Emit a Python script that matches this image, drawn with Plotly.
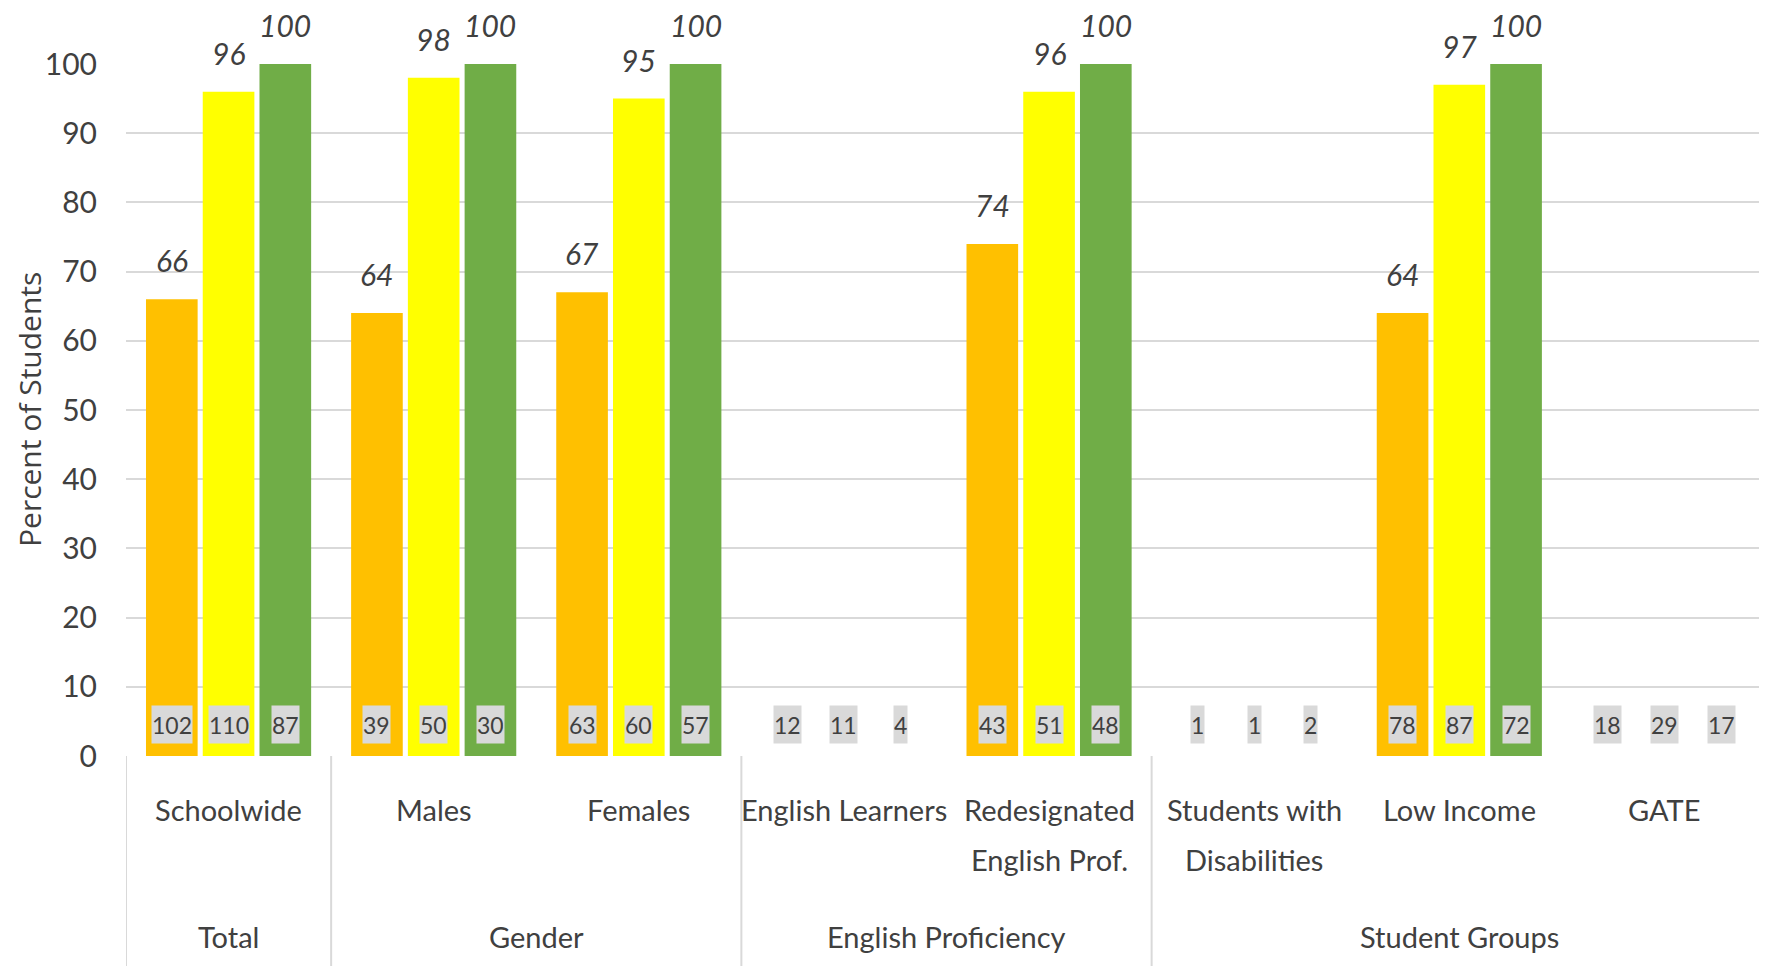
import plotly.graph_objects as go

categories = ["Schoolwide", "Males", "Females", "English Learners",
              "Redesignated<br>English Prof.", "Students with<br>Disabilities",
              "Low Income", "GATE"]
groups = ["Total", "Gender", "English Proficiency", "Student Groups"]
group_spans = [(0, 0), (1, 2), (3, 4), (5, 7)]

series_names = ["Series 1", "Series 2", "Series 3"]
orange_pct = [66, 64, 67, None, 74, None, 64, None]
yellow_pct = [96, 98, 95, None, 96, None, 97, None]
green_pct = [100, 100, 100, None, 100, None, 100, None]
orange_n = [102, 39, 63, 12, 43, 1, 78, 18]
yellow_n = [110, 50, 60, 11, 51, 1, 87, 29]
green_n = [87, 30, 57, 4, 48, 2, 72, 17]

colors = ["#FFC000", "#FFFF00", "#70AD47"]
y_ticks = list(range(0, 101, 10))

FONT = "Lato, 'Liberation Sans', sans-serif"
TXT = "#404040"
GRID = "#d9d9d9"

bargap = 0.17
bargroupgap = 0.09

xs = list(range(len(categories)))
fig = go.Figure()
for name, vals, col in zip(series_names, [orange_pct, yellow_pct, green_pct], colors):
    fig.add_trace(go.Bar(
        x=xs, y=vals, name=name, marker=dict(color=col, line=dict(width=0)),
        cliponaxis=False,
    ))

annotations = []
slot = (1 - bargap) / 3
for k, vals in enumerate([orange_pct, yellow_pct, green_pct]):
    for i, v in enumerate(vals):
        if v is None:
            continue
        annotations.append(dict(
            x=i + (k - 1) * slot, y=v, xref="x", yref="y", text=str(v),
            showarrow=False, yanchor="middle", yshift=39,
            font=dict(family=FONT, size=30, color=TXT, style="italic"),
        ))

for k, counts in enumerate([orange_n, yellow_n, green_n]):
    for i, c in enumerate(counts):
        annotations.append(dict(
            x=i + (k - 1) * slot, y=4.5, xref="x", yref="y", text=str(c),
            showarrow=False, bgcolor="#d9d9d9", borderpad=0, height=37,
            font=dict(family=FONT, size=23, color=TXT),
        ))

for i, lab in enumerate(categories):
    for j, line in enumerate(lab.split("<br>")):
        annotations.append(dict(
            x=i, y=0, xref="x", yref="paper", text=line, showarrow=False,
            yanchor="middle", yshift=-53 - 50 * j,
            font=dict(family=FONT, size=29, color=TXT),
        ))

for g, (a, b) in zip(groups, group_spans):
    annotations.append(dict(
        x=(a + b) / 2, y=0, xref="x", yref="paper", text=g, showarrow=False,
        yanchor="middle", yshift=-180,
        font=dict(family=FONT, size=29, color=TXT),
    ))

annotations.append(dict(
    x=0, y=0.5, xref="paper", yref="paper", text="Percent of Students",
    showarrow=False, textangle=-90, xshift=-97, xanchor="center", yanchor="middle",
    font=dict(family="'Open Sans', sans-serif", size=30, color=TXT),
))

shapes = []
for pos in [-0.5, 0.5, 2.5, 4.5]:
    shapes.append(dict(type="line", xref="x", yref="paper", x0=pos, x1=pos,
                       y0=0, y1=-0.31, line=dict(color=GRID, width=2)))

fig.update_layout(
    width=1759, height=958,
    margin=dict(l=118, r=0, t=56, b=210),
    paper_bgcolor="white", plot_bgcolor="white",
    barmode="group", bargap=bargap, bargroupgap=bargroupgap,
    showlegend=False,
    xaxis=dict(range=[-0.5, 7.5], showticklabels=False, showgrid=False,
               zeroline=False, showline=False, fixedrange=True),
    yaxis=dict(range=[0, 100], tickvals=y_ticks, showgrid=True, gridcolor=GRID,
               gridwidth=2, zeroline=False, showline=False,
               ticks="outside", ticklen=22, tickcolor="rgba(0,0,0,0)",
               tickfont=dict(family=FONT, size=30, color=TXT)),
    annotations=annotations, shapes=shapes,
)

fig.write_html("out.html")
